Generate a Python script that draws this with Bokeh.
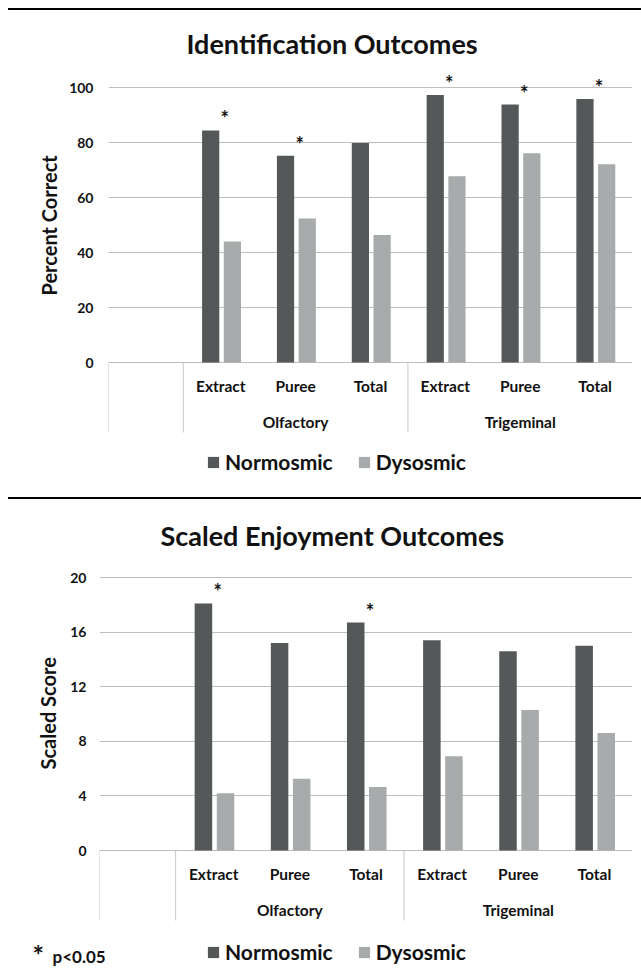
import numpy as np
from bokeh.plotting import figure
from bokeh.models import (ColumnDataSource, FactorRange, Range1d, FixedTicker,
                          Legend, LegendItem, Title, Div)
from bokeh.transform import dodge
from bokeh.layouts import column
from bokeh.embed import file_html
from bokeh.resources import INLINE
from bokeh.core.properties import value

# ---------------- data ----------------
groups = ["Olfactory", "Olfactory", "Olfactory", "Trigeminal", "Trigeminal", "Trigeminal"]
subcats = ["Extract", "Puree", "Total", "Extract", "Puree", "Total"]
series = ["Normosmic", "Dysosmic"]

id_title = "Identification Outcomes"
id_ylabel = "Percent Correct"
id_normosmic = [84.4, 75.2, 79.8, 97.3, 93.8, 95.8]
id_dysosmic = [44.0, 52.4, 46.4, 67.7, 76.1, 72.1]
id_sig = [True, True, False, True, True, True]
id_ticks = [0, 20, 40, 60, 80, 100]

enj_title = "Scaled Enjoyment Outcomes"
enj_ylabel = "Scaled Score"
enj_normosmic = [18.1, 15.2, 16.7, 15.4, 14.6, 15.0]
enj_dysosmic = [4.2, 5.25, 4.65, 6.9, 10.3, 8.6]
enj_sig = [True, False, True, False, False, False]
enj_ticks = [0, 4, 8, 12, 16, 20]

footnote_star = "*"
footnote_text = "p<0.05"

# ---------------- style ----------------
FONT = "Lato"
C_TEXT = "#111111"
C_NORM = "#555859"
C_DYS = "#A8ABAB"
C_GRID = "#BDBDBD"
C_SEP = "#C8C8C8"
FIG_W = 633


def no_align(p):
    try:
        p.frame_align = False
    except Exception:
        pass


def style_legend(leg):
    leg.orientation = "horizontal"
    leg.glyph_width = 14
    leg.glyph_height = 14
    leg.label_standoff = 5
    leg.spacing = 24
    leg.padding = 0
    leg.margin = 0
    leg.border_line_color = None
    leg.background_fill_alpha = 0
    leg.inactive_fill_alpha = 0
    leg.label_text_font = FONT
    leg.label_text_font_size = "21px"
    leg.label_text_font_style = "bold"
    leg.label_text_color = C_TEXT


def make_chart(title, ylabel, nvals, dvals, sig, ticks, fig_h, mbt, mbb, mbl, mbr,
               zero_px, top_px, title_offset, title_standoff, tick_standoff,
               ylabel_offset, ylabel_standoff, legend_loc=None):
    blank = (" ", " ")
    factors = [blank] + list(zip(groups, subcats))
    frame_top = mbt
    frame_bottom = fig_h - mbb
    ppu = (zero_px - top_px) / ticks[-1]
    y_end = (zero_px - frame_top) / ppu
    y_start = -(frame_bottom - zero_px) / ppu

    xr = FactorRange(*factors, factor_padding=0, group_padding=0, subgroup_padding=0,
                     range_padding=0)
    p = figure(width=FIG_W, height=fig_h, x_range=xr, y_range=Range1d(y_start, y_end),
               x_axis_location=None, output_backend="svg", toolbar_location=None,
               min_border_top=mbt, min_border_bottom=mbb, min_border_left=mbl,
               min_border_right=mbr)
    no_align(p)
    p.outline_line_color = None
    p.background_fill_color = "white"
    p.border_fill_color = "white"

    p.title.text = title
    p.title.text_font = FONT
    p.title.text_font_size = "27px"
    p.title.text_font_style = "bold"
    p.title.text_color = C_TEXT
    p.title.align = "left"
    p.title.offset = title_offset
    p.title.standoff = title_standoff

    p.yaxis.ticker = FixedTicker(ticks=ticks)
    p.yaxis.axis_line_color = None
    p.yaxis.major_tick_line_color = None
    p.yaxis.minor_tick_line_color = None
    p.yaxis.major_tick_out = 0
    p.yaxis.major_tick_in = 0
    p.yaxis.major_label_text_font = FONT
    p.yaxis.major_label_text_font_size = "14px"
    p.yaxis.major_label_text_font_style = "bold"
    p.yaxis.major_label_text_color = C_TEXT
    p.yaxis.major_label_standoff = tick_standoff
    p.ygrid.ticker = FixedTicker(ticks=ticks)
    p.ygrid.grid_line_color = C_GRID
    p.ygrid.grid_line_width = 1
    p.xgrid.visible = False

    # y-axis title, in the left panel beside the tick labels
    p.add_layout(Title(text=ylabel, align="left", offset=ylabel_offset,
                       standoff=ylabel_standoff, text_font=FONT, text_font_size="20px",
                       text_font_style="bold", text_color=C_TEXT), "left")

    src = ColumnDataSource(dict(x=factors[1:], n=nvals, d=dvals))
    rn = p.vbar(x=dodge("x", -0.135, range=xr), top="n", width=0.23, source=src,
                fill_color=C_NORM, line_color=None)
    rd = p.vbar(x=dodge("x", 0.155, range=xr), top="d", width=0.23, source=src,
                fill_color=C_DYS, line_color=None)

    # significance stars
    sx = [f for f, s in zip(factors[1:], sig) if s]
    sy = [v for v, s in zip(nvals, sig) if s]
    star_src = ColumnDataSource(dict(x=sx, y=sy, t=["*"] * len(sx)))
    p.text(x="x", y="y", text="t", source=star_src, x_offset=4, y_offset=-12,
           text_align="center", text_baseline="alphabetic", text_font=value(FONT),
           text_font_size="20px", text_font_style="bold", text_color=C_TEXT)

    # two-level category axis with separators
    sep_px = 70
    firsts = []
    seen = set()
    for f in factors:
        if f[0] not in seen:
            seen.add(f[0])
            firsts.append((f[0], f[1], -0.5))
    sep_src = ColumnDataSource(dict(x=firsts, y0=[0] * len(firsts),
                                    y1=[-sep_px / ppu] * len(firsts)))
    p.segment(x0="x", y0="y0", x1="x", y1="y1", source=sep_src, line_color=C_SEP,
              line_width=1)
    cat_src = ColumnDataSource(dict(x=factors[1:], y=[0] * len(subcats), t=subcats))
    p.text(x="x", y="y", text="t", source=cat_src, y_offset=23, text_align="center",
           text_baseline="middle", text_font=value(FONT), text_font_size="15.5px",
           text_font_style="bold", text_color=C_TEXT)
    ug = list(dict.fromkeys(groups))
    grp_src = ColumnDataSource(dict(x=ug, y=[0] * len(ug), t=ug))
    p.text(x="x", y="y", text="t", source=grp_src, y_offset=59, text_align="center",
           text_baseline="middle", text_font=value(FONT), text_font_size="15.5px",
           text_font_style="bold", text_color=C_TEXT)

    if legend_loc is not None:
        leg = Legend(items=[LegendItem(label=series[0], renderers=[rn]),
                            LegendItem(label=series[1], renderers=[rd])],
                     location=legend_loc)
        style_legend(leg)
        p.add_layout(leg)
    return p


# top chart: page y 10..497
p1 = make_chart(id_title, id_ylabel, id_normosmic, id_dysosmic, id_sig, id_ticks,
                fig_h=487, mbt=52, mbb=9, mbl=100, mbr=9, zero_px=352, top_px=77,
                title_offset=78, title_standoff=6, tick_standoff=15,
                ylabel_offset=193, ylabel_standoff=11, legend_loc=(98, 14))

# bottom chart: page y 499..930, then legend / footnote strip 930..975
p2 = make_chart(enj_title, enj_ylabel, enj_normosmic, enj_dysosmic, enj_sig, enj_ticks,
                fig_h=431, mbt=61, mbb=0, mbl=91, mbr=9, zero_px=351, top_px=78,
                title_offset=61, title_standoff=18, tick_standoff=13,
                ylabel_offset=161, ylabel_standoff=16)

strip = figure(width=FIG_W, height=45, x_range=Range1d(0, FIG_W), y_range=Range1d(0, 45),
               x_axis_location=None, y_axis_location=None, output_backend="svg",
               toolbar_location=None, min_border=0)
no_align(strip)
strip.title.visible = False
strip.outline_line_color = None
strip.grid.visible = False
# legend keys for the bottom chart (same series, not drawn in the strip itself)
key_src = ColumnDataSource(dict(i=list(range(len(subcats))), n=enj_normosmic, d=enj_dysosmic))
kn = strip.vbar(x="i", top="n", width=0.2, source=key_src, fill_color=C_NORM,
                line_color=None, visible=False)
kd = strip.vbar(x="i", top="d", width=0.2, source=key_src, fill_color=C_DYS,
                line_color=None, visible=False)
leg2 = Legend(items=[LegendItem(label=series[0], renderers=[kn]),
                     LegendItem(label=series[1], renderers=[kd])],
              location=(198, 11))
style_legend(leg2)
strip.add_layout(leg2)
strip.text(x=[24], y=[21], text=[footnote_star], text_align="left",
           text_baseline="alphabetic", text_font=value(FONT), text_font_size="27px",
           text_font_style="bold", text_color=C_TEXT)
strip.text(x=[44], y=[19], text=[footnote_text], text_align="left",
           text_baseline="alphabetic", text_font=value(FONT), text_font_size="17px",
           text_font_style="bold", text_color=C_TEXT)

rule1 = Div(text="", width=FIG_W, height=2, margin=0,
            styles={"background-color": "#000000", "overflow": "hidden"})
rule2 = Div(text="", width=FIG_W, height=2, margin=0,
            styles={"background-color": "#000000", "overflow": "hidden"})

layout = column(rule1, p1, rule2, p2, strip, spacing=0, margin=(8, 0, 0, 8))
open("out.html", "w").write(file_html(layout, INLINE))
